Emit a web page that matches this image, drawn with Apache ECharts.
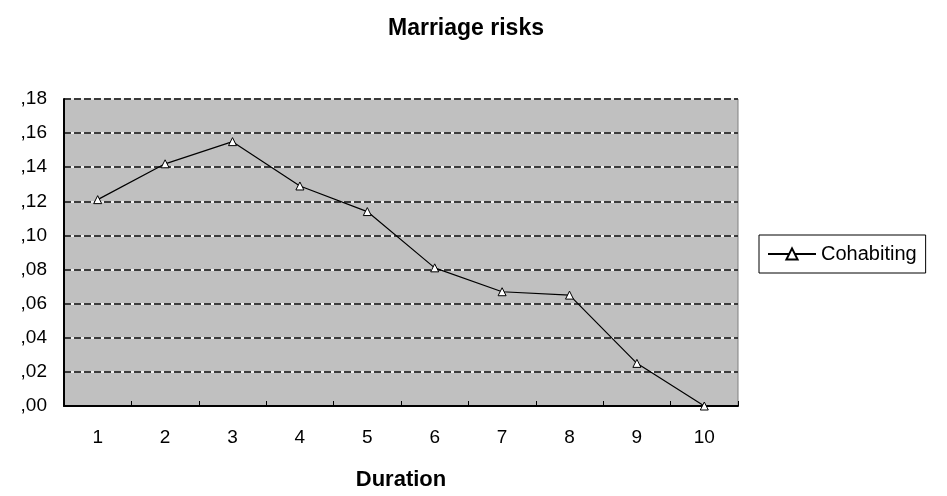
<!DOCTYPE html>
<html>
<head>
<meta charset="utf-8">
<script src="https://cdn.jsdelivr.net/npm/echarts@6/dist/echarts.min.js"></script>
<style>html,body{margin:0;padding:0;background:#fff}#c{width:947px;height:496px}</style>
</head>
<body>
<div id="c"></div>
<script>
var categories = ['1','2','3','4','5','6','7','8','9','10'];
var cohabiting = [0.121, 0.142, 0.155, 0.129, 0.114, 0.081, 0.067, 0.065, 0.025, 0.000];
var yTickLabels = [',00', ',02', ',04', ',06', ',08', ',10', ',12', ',14', ',16', ',18'];
var yMin = 0, yMax = 0.18, yStep = 0.02;

var font = 'Liberation Sans, Arial, sans-serif';
var chart = echarts.init(document.getElementById('c'));
chart.setOption({
  animation: false,
  backgroundColor: '#ffffff',
  title: {
    text: 'Marriage risks',
    left: 383, top: 12,
    textStyle: {fontFamily: font, fontSize: 23, fontWeight: 'bold', color: '#000'}
  },
  legend: {
    left: 759, top: 235,
    orient: 'vertical',
    borderColor: '#000', borderWidth: 1,
    padding: [9, 9, 9, 8],
    itemWidth: 48, itemHeight: 14, itemGap: 5,
    textStyle: {fontFamily: font, fontSize: 20, color: '#000', padding: [0,0,0,0]},
    data: ['Cohabiting']
  },
  grid: {left: 64, right: 209, top: 99, bottom: 87, show: true, backgroundColor: '#c0c0c0', borderColor: '#808080', borderWidth: 1},
  xAxis: {
    type: 'category',
    data: categories,
    boundaryGap: true,
    name: 'Duration',
    nameLocation: 'middle',
    nameGap: 63,
    nameTextStyle: {fontFamily: font, fontSize: 22, fontWeight: 'bold', color: '#000'},
    axisLine: {lineStyle: {color: '#000', width: 2}},
    axisTick: {show: true, inside: true, length: 5, alignWithLabel: false, lineStyle: {color: '#000'}},
    axisLabel: {fontFamily: font, fontSize: 19, color: '#000', margin: 22}
  },
  yAxis: [{
    type: 'value', min: yMin, max: yMax, interval: yStep,
    axisLine: {show: true, lineStyle: {color: '#000', width: 2}},
    axisTick: {show: false},
    splitLine: {show: true, lineStyle: {color: '#ffffff', width: 1.5, type: 'solid'}},
    axisLabel: {fontFamily: font, fontSize: 19, color: '#000', margin: 17,
      formatter: function (v) { return yTickLabels[Math.round((v - yMin) / yStep)]; }}
  }, {
    type: 'value', min: yMin, max: yMax, interval: yStep, position: 'left',
    axisLine: {show: false}, axisTick: {show: false}, axisLabel: {show: false},
    splitLine: {show: true, lineStyle: {color: '#000', width: 1.5, type: [7, 3]}}
  }],
  series: [{
    name: 'Cohabiting',
    type: 'line',
    data: cohabiting,
    symbol: 'triangle',
    symbolSize: 8,
    lineStyle: {color: '#000', width: 1.2},
    itemStyle: {color: '#ffffff', borderColor: '#000', borderWidth: 1},
    z: 5
  }]
});
</script>
</body>
</html>
